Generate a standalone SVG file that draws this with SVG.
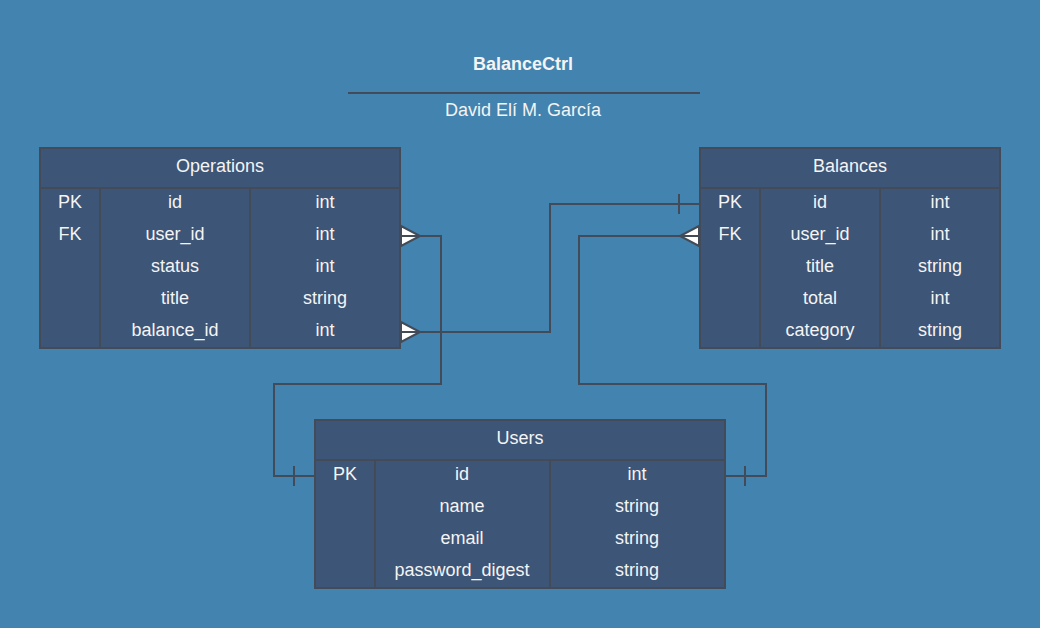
<svg xmlns="http://www.w3.org/2000/svg" width="1040" height="628" viewBox="0 0 1040 628">
<style>
.tb{fill:#3d5576;stroke:#424b57;stroke-width:2}
.ln{stroke:#424b57;stroke-width:2;fill:none}
.t{font-family:"Liberation Sans",Arial,sans-serif;font-size:18px;fill:#f4f4f4;text-anchor:middle;dominant-baseline:central}
.b{font-weight:bold}
.cf{fill:#ffffff;stroke:#424b57;stroke-width:2}
</style>
<rect width="1040" height="628" fill="#4283af"/>
<g id="title">
<text class="t b" x="523" y="64">BalanceCtrl</text>
<line class="ln" x1="348" y1="93" x2="700" y2="93"/>
<text class="t" x="523" y="110">David Elí M. García</text>
</g>
<g id="connectors">
<polyline class="ln" points="400,236 441,236 441,384 274,384 274,476 315,476"/>
<line class="ln" x1="294" y1="466" x2="294" y2="486"/>
<polyline class="ln" points="400,332 550,332 550,204 700,204"/>
<line class="ln" x1="679" y1="194" x2="679" y2="214"/>
<polyline class="ln" points="700,236 579,236 579,384 766,384 766,476 725,476"/>
<line class="ln" x1="745" y1="466" x2="745" y2="486"/>
<polygon class="cf" points="401,226 420,236 401,246"/>
<line class="ln" x1="400" y1="236" x2="420" y2="236"/>
<polygon class="cf" points="401,322 420,332 401,342"/>
<line class="ln" x1="400" y1="332" x2="420" y2="332"/>
<polygon class="cf" points="699,226 680,236 699,246"/>
<line class="ln" x1="680" y1="236" x2="700" y2="236"/>
</g>
<g id="operations">
<rect class="tb" x="40" y="148" width="360" height="200"/>
<line class="ln" x1="40" y1="188" x2="400" y2="188"/>
<line class="ln" x1="100" y1="188" x2="100" y2="348"/>
<line class="ln" x1="250" y1="188" x2="250" y2="348"/>
<text class="t" x="220" y="166">Operations</text>
<text class="t" x="70" y="202">PK</text><text class="t" x="175" y="202">id</text><text class="t" x="325" y="202">int</text>
<text class="t" x="70" y="234">FK</text><text class="t" x="175" y="234">user_id</text><text class="t" x="325" y="234">int</text>
<text class="t" x="175" y="266">status</text><text class="t" x="325" y="266">int</text>
<text class="t" x="175" y="298">title</text><text class="t" x="325" y="298">string</text>
<text class="t" x="175" y="330">balance_id</text><text class="t" x="325" y="330">int</text>
</g>
<g id="balances">
<rect class="tb" x="700" y="148" width="300" height="200"/>
<line class="ln" x1="700" y1="188" x2="1000" y2="188"/>
<line class="ln" x1="760" y1="188" x2="760" y2="348"/>
<line class="ln" x1="880" y1="188" x2="880" y2="348"/>
<text class="t" x="850" y="166">Balances</text>
<text class="t" x="730" y="202">PK</text><text class="t" x="820" y="202">id</text><text class="t" x="940" y="202">int</text>
<text class="t" x="730" y="234">FK</text><text class="t" x="820" y="234">user_id</text><text class="t" x="940" y="234">int</text>
<text class="t" x="820" y="266">title</text><text class="t" x="940" y="266">string</text>
<text class="t" x="820" y="298">total</text><text class="t" x="940" y="298">int</text>
<text class="t" x="820" y="330">category</text><text class="t" x="940" y="330">string</text>
</g>
<g id="users">
<rect class="tb" x="315" y="420" width="410" height="168"/>
<line class="ln" x1="315" y1="460" x2="725" y2="460"/>
<line class="ln" x1="375" y1="460" x2="375" y2="588"/>
<line class="ln" x1="550" y1="460" x2="550" y2="588"/>
<text class="t" x="520" y="438">Users</text>
<text class="t" x="345" y="474">PK</text><text class="t" x="462" y="474">id</text><text class="t" x="637" y="474">int</text>
<text class="t" x="462" y="506">name</text><text class="t" x="637" y="506">string</text>
<text class="t" x="462" y="538">email</text><text class="t" x="637" y="538">string</text>
<text class="t" x="462" y="570">password_digest</text><text class="t" x="637" y="570">string</text>
</g>
</svg>
